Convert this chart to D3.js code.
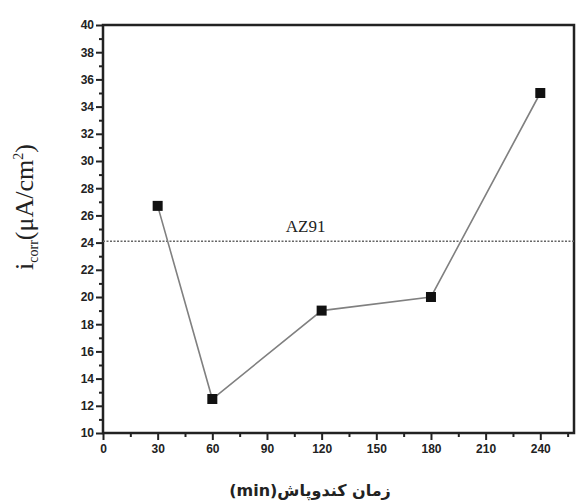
<!DOCTYPE html>
<html>
<head>
<meta charset="utf-8">
<script src="https://cdn.jsdelivr.net/npm/d3@7"></script>
<style>
  body { margin: 0; background: #fff; }
  svg { display: block; }
  .tick text { font-family: "Liberation Sans", Arial, sans-serif; font-weight: bold; font-size: 12px; fill: #222; }
</style>
</head>
<body>
<div id="chart"></div>
<script>
// sputtering time (min) vs corrosion current density
var times = [30, 60, 120, 180, 240];
var icorr = [26.7, 12.5, 19.0, 20.0, 35.0];
var az91Value = 24.1;
var xTickValues = [0, 30, 60, 90, 120, 150, 180, 210, 240];
var yTickValues = [10, 12, 14, 16, 18, 20, 22, 24, 26, 28, 30, 32, 34, 36, 38, 40];

var W = 578, H = 503;
var margin = {top: 25, right: 4, bottom: 70, left: 103};
var width = W - margin.left - margin.right,
    height = H - margin.top - margin.bottom;

var svg = d3.select('#chart').append('svg')
    .attr('width', W)
    .attr('height', H);

var g = svg.append('g')
    .attr('transform', 'translate(' + margin.left + ',' + margin.top + ')');

var x = d3.scaleLinear().domain([0, 258.5]).range([0, width]);
var y = d3.scaleLinear().domain([10, 40]).range([height, 0]);

// minor ticks
var xMinor = d3.range(15, 258, 30);
var yMinor = d3.range(11, 40, 2);

function styleAxis(a) {
    a.select('.domain').remove();
    a.selectAll('line').attr('stroke', '#222').attr('stroke-width', 2);
}

g.append('g')
    .attr('transform', 'translate(0,' + height + ')')
    .call(d3.axisBottom(x).tickValues(xMinor).tickSize(4).tickFormat(''))
    .call(styleAxis);

g.append('g')
    .call(d3.axisLeft(y).tickValues(yMinor).tickSize(4).tickFormat(''))
    .call(styleAxis);

// major ticks with labels
g.append('g')
    .attr('transform', 'translate(0,' + height + ')')
    .call(d3.axisBottom(x).tickValues(xTickValues).tickSize(7).tickPadding(4))
    .call(styleAxis);

g.append('g')
    .call(d3.axisLeft(y).tickValues(yTickValues).tickSize(7).tickPadding(2))
    .call(styleAxis);

// frame
g.append('rect')
    .attr('x', 0).attr('y', 0)
    .attr('width', width).attr('height', height)
    .attr('fill', 'none')
    .attr('stroke', '#222')
    .attr('stroke-width', 2.5);

// AZ91 reference line
g.append('line')
    .attr('x1', 0).attr('x2', width)
    .attr('y1', y(az91Value)).attr('y2', y(az91Value))
    .attr('stroke', '#666')
    .attr('stroke-width', 1.3)
    .attr('stroke-dasharray', '2,1.5');

g.append('text')
    .attr('x', x(120) - 16)
    .attr('y', y(az91Value) - 9)
    .attr('text-anchor', 'middle')
    .style('font-family', '"Liberation Serif", "Times New Roman", serif')
    .style('font-size', '17px')
    .attr('fill', '#222')
    .text('AZ91');

// data line
var pts = times.map(function(t, i){ return {t: t, v: icorr[i]}; });

g.append('path')
    .datum(pts)
    .attr('fill', 'none')
    .attr('stroke', '#808080')
    .attr('stroke-width', 1.6)
    .attr('d', d3.line().x(function(d){ return x(d.t); }).y(function(d){ return y(d.v); }));

g.selectAll('rect.pt')
    .data(pts)
    .enter().append('rect')
    .attr('class', 'pt')
    .attr('x', function(d){ return x(d.t) - 5; })
    .attr('y', function(d){ return y(d.v) - 5; })
    .attr('width', 10).attr('height', 10)
    .attr('fill', '#111');

// axis titles
svg.append('text')
    .attr('x', 310)
    .attr('y', H - 7)
    .attr('text-anchor', 'middle')
    .style('font-family', '"DejaVu Sans", "Noto Sans", sans-serif')
    .style('font-weight', 'bold')
    .style('font-size', '16px')
    .attr('fill', '#222')
    .text('(min)زمان کندوپاش');

var yl = svg.append('text')
    .attr('transform', 'translate(33,' + 207 + ') rotate(-90)')
    .attr('text-anchor', 'middle')
    .style('font-family', '"Liberation Serif", "Times New Roman", serif')
    .style('font-size', '26px')
    .attr('fill', '#222');
yl.append('tspan').text('i');
yl.append('tspan').attr('dy', 5).style('font-size', '14px').text('corr');
yl.append('tspan').attr('dy', -5).text('(μA/cm');
yl.append('tspan').attr('dy', -10).style('font-size', '14px').text('2');
yl.append('tspan').attr('dy', 10).text(')');
</script>
</body>
</html>
